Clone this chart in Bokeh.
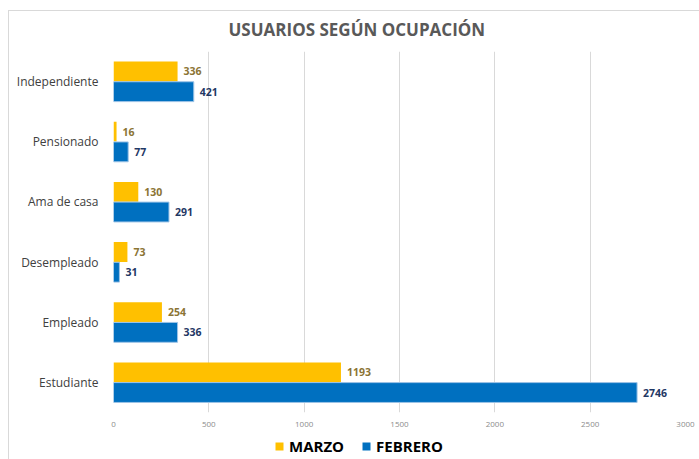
from bokeh.plotting import figure
from bokeh.layouts import column
from bokeh.models import ColumnDataSource, Range1d, FactorRange, Legend, LegendItem, LabelSet
from bokeh.core.properties import value
from bokeh.transform import dodge
from bokeh.embed import file_html
from bokeh.resources import INLINE

categories = ["Independiente", "Pensionado", "Ama de casa", "Desempleado", "Empleado", "Estudiante"]
marzo = [336, 16, 130, 73, 254, 1193]
febrero = [421, 77, 291, 31, 336, 2746]
x_ticks = [0, 500, 1000, 1500, 2000, 2500, 3000]
series_names = ["MARZO", "FEBRERO"]
series_colors = ["#FFC000", "#0070C0"]

factors = list(reversed(categories))
src = ColumnDataSource(dict(cat=categories, marzo=marzo, febrero=febrero,
                            mlab=[str(v) for v in marzo], flab=[str(v) for v in febrero]))

p = figure(width=699, height=435, output_backend="svg", toolbar_location=None,
           y_range=FactorRange(*factors), x_range=Range1d(0, 3000),
           min_border_left=113, min_border_right=14, min_border_top=51, min_border_bottom=23)
p.border_fill_alpha = 0
p.styles = {
    "background": "linear-gradient(#d9d9d9,#d9d9d9) 8px 10px / 691px 1px no-repeat, "
                  "linear-gradient(#d9d9d9,#d9d9d9) 8px 10px / 1px 430px no-repeat"
}

p.title.text = "USUARIOS SEGÚN OCUPACIÓN"
p.title.align = "left"
p.title.offset = 115
p.title.text_font = "Open Sans"
p.title.text_font_size = "17px"
p.title.text_font_style = "bold"
p.title.text_color = "#595959"
p.title.standoff = 21

r_m = p.hbar(y=dodge("cat", 0.168, range=p.y_range), right="marzo", left=0, height=0.33,
             source=src, fill_color=series_colors[0], line_color=None)
r_f = p.hbar(y=dodge("cat", -0.168, range=p.y_range), right="febrero", left=0, height=0.33,
             source=src, fill_color=series_colors[1], line_color="#9DC3E6", line_width=1)

lm = LabelSet(x="marzo", y=dodge("cat", 0.168, range=p.y_range), text="mlab", source=src,
              x_offset=6, text_baseline="middle", text_align="left",
              text_font=value("Open Sans"), text_font_size="10.5px", text_font_style="bold",
              text_color="#8B7434")
lf = LabelSet(x="febrero", y=dodge("cat", -0.168, range=p.y_range), text="flab", source=src,
              x_offset=6, text_baseline="middle", text_align="left",
              text_font=value("Open Sans"), text_font_size="10.5px", text_font_style="bold",
              text_color="#1F3864")
p.add_layout(lm)
p.add_layout(lf)

p.xaxis.ticker = x_ticks
p.xaxis.axis_line_color = None
p.xaxis.major_tick_line_color = None
p.xaxis.minor_tick_line_color = None
p.xaxis.major_label_text_font = "Open Sans"
p.xaxis.major_label_text_font_size = "8px"
p.xaxis.major_label_text_color = "#8c8c8c"
p.xaxis.major_label_standoff = 3

p.yaxis.axis_line_color = None
p.yaxis.major_tick_line_color = None
p.yaxis.minor_tick_line_color = None
p.yaxis.major_label_text_font = "Open Sans"
p.yaxis.major_label_text_font_size = "12px"
p.yaxis.major_label_text_color = "#404040"
p.yaxis.major_label_standoff = 9

p.ygrid.grid_line_color = None
p.xgrid.grid_line_color = "#d9d9d9"
p.outline_line_color = None
p.y_range.range_padding = 0
p.y_range.group_padding = 0

# legend strip below the chart (swatch renderers sit outside the visible range)
p2 = figure(width=699, height=24, output_backend="svg", toolbar_location=None,
            x_range=Range1d(0, 1), y_range=Range1d(0, 1), x_axis_type=None, y_axis_type=None,
            min_border_left=0, min_border_right=0, min_border_top=0, min_border_bottom=0)
p2.outline_line_color = None
p2.grid.visible = False
p2.border_fill_alpha = 0
p2.background_fill_alpha = 0
p2.styles = {
    "background": "linear-gradient(#d9d9d9,#d9d9d9) 8px 0px / 1px 24px no-repeat"
}
sw = [p2.hbar(y=[-5], right=[-5], left=[-6], height=0.5, fill_color=c, line_color=None)
      for c in series_colors]
legend = Legend(items=[LegendItem(label=n, renderers=[r]) for n, r in zip(series_names, sw)],
                orientation="horizontal", location=(161, 3),
                label_text_font="Open Sans", label_text_font_size="15px",
                label_text_font_style="bold", label_text_color="#000000",
                glyph_width=10, glyph_height=10, spacing=17, padding=0, margin=0,
                label_height=20, border_line_color=None, background_fill_alpha=0,
                label_standoff=5)
p2.add_layout(legend)

layout = column(p, p2, spacing=0)
open("out.html", "w").write(file_html(layout, INLINE))
